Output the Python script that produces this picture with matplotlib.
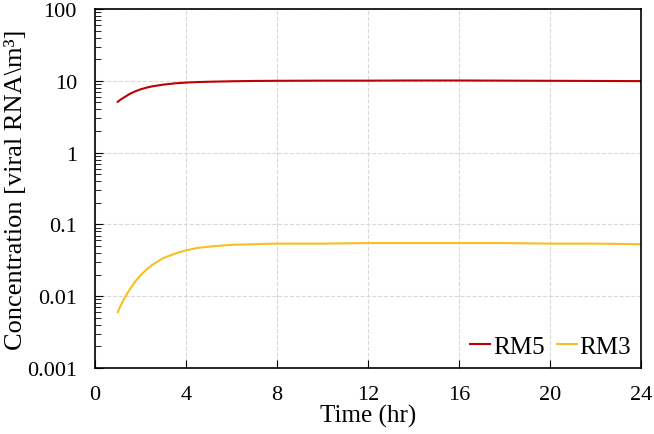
import matplotlib.pyplot as plt
from matplotlib.ticker import LogLocator, NullFormatter

plt.rcParams['font.family'] = ['Liberation Serif', 'DejaVu Serif']

# Time points (hr)
hours = [1, 1.1, 1.25, 1.4, 1.5, 1.75, 2, 2.25, 2.5, 3, 3.5, 4, 4.5, 5, 6, 7, 8, 10, 12, 14, 16, 18, 20, 22, 24]
# Concentration
rm5 = [5.1, 5.4, 5.8, 6.2, 6.5, 7.1, 7.6, 8.0, 8.35, 8.85, 9.2, 9.45, 9.6, 9.7, 9.85, 9.95, 10.0,
       10.05, 10.05, 10.1, 10.1, 10.05, 10.0, 9.95, 9.9]
rm3 = [0.006, 0.0071, 0.0088, 0.0107, 0.012, 0.0158, 0.0195, 0.0233, 0.027, 0.034, 0.039, 0.0435,
       0.047, 0.049, 0.052, 0.053, 0.054, 0.054, 0.055, 0.055, 0.055, 0.055, 0.054, 0.054, 0.053]

x_ticks = [0, 4, 8, 12, 16, 20, 24]
y_ticks = [0.001, 0.01, 0.1, 1, 10, 100]
y_labels = ['0.001', '0.01', '0.1', '1', '10', '100']

fig = plt.figure(figsize=(6.54, 4.35), dpi=100)
ax = fig.add_axes([95 / 654, 66 / 435, 546 / 654, 359 / 435])

ax.plot(hours, rm5, color='#C00000', lw=1.5, label='RM5')
ax.plot(hours, rm3, color='#F5C020', lw=1.5, label='RM3')

ax.set_yscale('log')
ax.set_xlim(0, 24)
ax.set_ylim(0.001, 100)
ax.set_xticks(x_ticks)
ax.set_yticks(y_ticks)
ax.set_yticklabels(y_labels)
ax.yaxis.set_minor_locator(LogLocator(base=10, subs=range(2, 10)))
ax.yaxis.set_minor_formatter(NullFormatter())
ax.tick_params(axis='both', which='both', direction='in', labelsize=16)
ax.tick_params(axis='y', which='major', length=6, pad=13)
ax.tick_params(axis='y', which='minor', length=4)
ax.tick_params(axis='x', which='major', length=6, pad=12)

ax.grid(True, which='major', ls='--', color='#D9D9D9', lw=0.8)
for s in ax.spines.values():
    s.set_linewidth(1.2)

ax.set_xlabel('Time (hr)', fontsize=18, labelpad=0)
ax.set_ylabel('Concentration [viral RNA\\m³]', fontsize=19, labelpad=0)

ax.legend(loc='lower right', ncol=2, frameon=False, fontsize=18,
          handlelength=0.8, columnspacing=0.5, handletextpad=0.1,
          borderaxespad=0.0)

fig.savefig('out.png', dpi=100)
